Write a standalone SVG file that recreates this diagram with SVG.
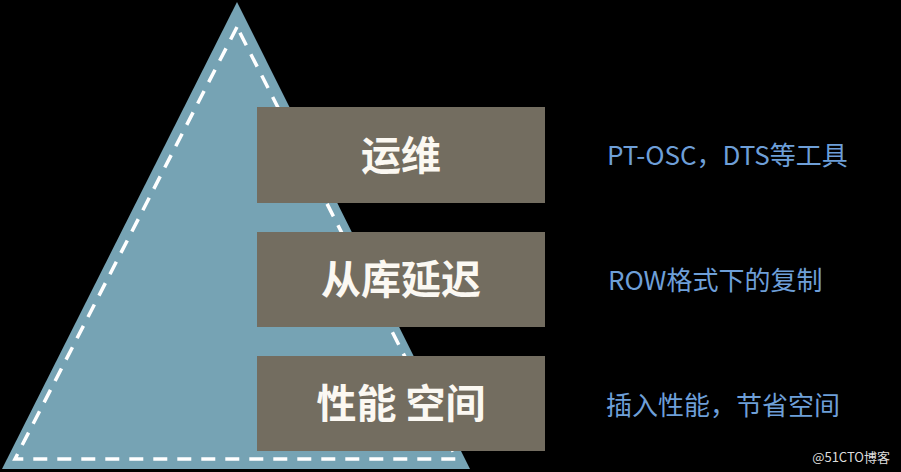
<svg xmlns="http://www.w3.org/2000/svg" width="901" height="472" viewBox="0 0 901 472">
<style>
.box{fill:#736D60}
.t{font-family:"Noto Sans CJK SC",sans-serif;font-weight:bold;font-size:40px;fill:#FBF8F2;text-anchor:middle}
.s{font-family:"Noto Sans CJK SC",sans-serif;font-size:26px;fill:#6E9FD8}
</style>
<rect width="901" height="472" fill="#000"/>
<g id="pyramid">
<polygon points="237,2 2,469 470,469" fill="#76A3B4"/>
<polygon points="237,27 15,459 457,459" fill="none" stroke="#fff" stroke-width="3.5" stroke-dasharray="14,10"/>
</g>
<g id="n1"><rect class="box" x="257" y="107" width="288" height="96"/><text class="t" x="401" y="170">运维</text></g>
<g id="n2"><rect class="box" x="257" y="232" width="288" height="95"/><text class="t" x="401" y="294">从库延迟</text></g>
<g id="n3"><rect class="box" x="257" y="356" width="288" height="95"/><text class="t" x="401" y="418">性能 空间</text></g>
<g id="labels">
<text class="s" x="607" y="165">PT-OSC，DTS等工具</text>
<text class="s" x="608" y="290">ROW格式下的复制</text>
<text class="s" x="606" y="415">插入性能，节省空间</text>
<text x="890" y="462" font-family="Noto Sans CJK SC,sans-serif" font-size="13" fill="#ddd" text-anchor="end">@51CTO博客</text>
</g>
<g id="connectors"/>
</svg>
